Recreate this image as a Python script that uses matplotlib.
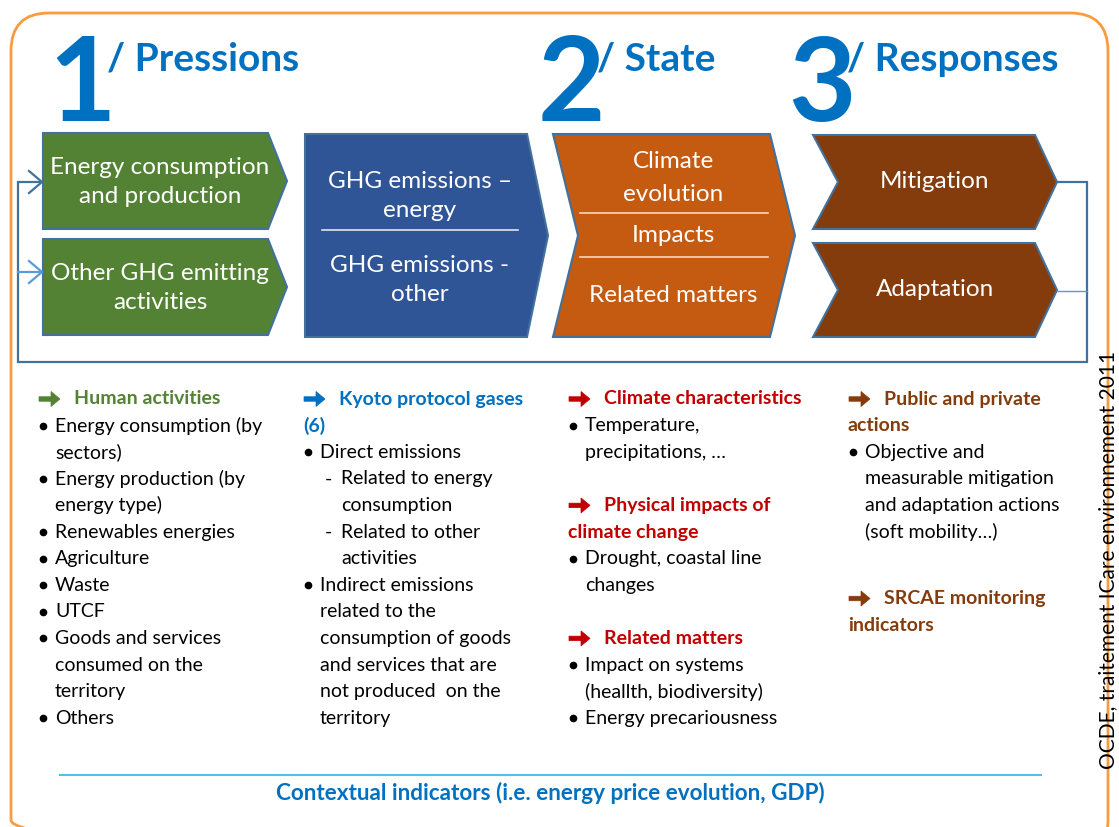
import matplotlib
matplotlib.use("Agg")
import matplotlib.pyplot as plt
from matplotlib.patches import Polygon, FancyBboxPatch, Rectangle, FancyArrow

plt.rcParams['font.family'] = ['Lato', 'DejaVu Sans']

# colours
BLUE = '#0070C0'
GREEN = '#548235'
NAVY = '#2F5597'
ORANGE = '#C55A11'
BROWN = '#843C0C'
RED = '#C00000'
EDGE = '#41719C'

# step headers
step_numbers = ['1', '2', '3']
step_titles = ['/ Pressions', '/ State', '/ Responses']
step_x = [48, 538, 788]

# boxes
green_labels = ['Energy consumption\nand production', 'Other GHG emitting\nactivities']
blue_labels = ['GHG emissions \u2013\nenergy', 'GHG emissions -\nother']
orange_labels = ['Climate\nevolution', 'Impacts', 'Related matters']
brown_labels = ['Mitigation', 'Adaptation']

# indicator columns: (kind, text) ; kind: head, cont, bullet, text, dash, dtext, gap, half
col1 = [('head', 'Human activities'),
        ('bullet', 'Energy consumption (by'), ('text', 'sectors)'),
        ('bullet', 'Energy production (by'), ('text', 'energy type)'),
        ('bullet', 'Renewables energies'),
        ('bullet', 'Agriculture'),
        ('bullet', 'Waste'),
        ('bullet', 'UTCF'),
        ('bullet', 'Goods and services'), ('text', 'consumed on the'), ('text', 'territory'),
        ('bullet', 'Others')]
col2 = [('head', 'Kyoto protocol gases'), ('cont', '(6)'),
        ('bullet', 'Direct emissions'),
        ('dash', 'Related to energy'), ('dtext', 'consumption'),
        ('dash', 'Related to other'), ('dtext', 'activities'),
        ('bullet', 'Indirect emissions'), ('text', 'related to the'),
        ('text', 'consumption of goods'), ('text', 'and services that are'),
        ('text', 'not produced  on the'), ('text', 'territory')]
col3 = [('head', 'Climate characteristics'),
        ('bullet', 'Temperature,'), ('text', 'precipitations, \u2026'),
        ('gap', ''),
        ('head', 'Physical impacts of'), ('cont', 'climate change'),
        ('bullet', 'Drought, coastal line'), ('text', 'changes'),
        ('gap', ''),
        ('head', 'Related matters'),
        ('bullet', 'Impact on systems'), ('text', '(heallth, biodiversity)'),
        ('bullet', 'Energy precariousness')]
col4 = [('head', 'Public and private'), ('cont', 'actions'),
        ('bullet', 'Objective and'), ('text', 'measurable mitigation'),
        ('text', 'and adaptation actions'), ('text', '(soft mobility\u2026)'),
        ('gap', ''), ('half', ''),
        ('head', 'SRCAE monitoring'), ('cont', 'indicators')]
columns = [col1, col2, col3, col4]
column_x = [38, 303, 568, 848]
column_colors = [GREEN, BLUE, RED, BROWN]

context_label = 'Contextual indicators (i.e. energy price evolution, GDP)'
source_label = 'OCDE, traitement ICare environnement 2011'


def pentagon(x0, x1, tip, y0, y1, notch=None):
    ym = (y0 + y1) / 2
    pts = [(x0, y0), (x1, y0), (tip, ym), (x1, y1), (x0, y1)]
    if notch is not None:
        pts.append((notch, ym))
    return pts


fig = plt.figure(figsize=(11.19, 8.27), dpi=100)
ax = fig.add_axes([0, 0, 1, 1])
ax.set_xlim(0, 1119)
ax.set_ylim(827, 0)
ax.axis('off')

# outer rounded frame
frame = FancyBboxPatch((11, 13), 1097, 845, boxstyle='round,pad=0,rounding_size=38',
                       fc='none', ec='#F79C3F', lw=2)
ax.add_patch(frame)

# headers
for num, title, x in zip(step_numbers, step_titles, step_x):
    ax.text(x, 121, num, fontsize=84, fontweight='bold', color=BLUE, va='baseline', ha='left')
    ax.text(x + 59, 71, title, fontsize=28, fontweight='bold', color=BLUE, va='baseline', ha='left')

# feedback loop
ax.plot([1057, 1087, 1087, 18, 18, 40], [182, 182, 362, 362, 182, 182], color=EDGE, lw=1.6,
        solid_joinstyle='miter')
ax.plot([1057, 1087], [291, 291], color='#5B9BD5', lw=1)
ax.plot([18, 40], [272, 272], color='#5B9BD5', lw=1.6)
for y, c in [(182, EDGE), (272, '#5B9BD5')]:
    ax.plot([29, 42, 29], [y - 11, y, y + 11], color=c, lw=1.6)

# green boxes
for (y0, y1), lab in zip([(133, 229), (239, 335)], green_labels):
    ax.add_patch(Polygon(pentagon(43, 268, 287, y0, y1), closed=True, fc=GREEN, ec=EDGE, lw=1.5))
    ax.text(160, (y0 + y1) / 2 + 1, lab, ha='center', va='center', color='white',
            fontsize=17.5, linespacing=1.5)

# blue box
ax.add_patch(Polygon(pentagon(305, 527, 548, 134, 337), closed=True, fc=NAVY, ec=EDGE, lw=1.5))
ax.plot([322, 518], [230, 230], color='#DDE6F3', lw=1.2)
for yc, lab in zip([196, 280], blue_labels):
    ax.text(420, yc, lab, ha='center', va='center', color='white', fontsize=17.5,
            linespacing=1.5)

# orange chevron
ax.add_patch(Polygon(pentagon(553, 770, 795, 134, 337, notch=578), closed=True,
                     fc=ORANGE, ec=EDGE, lw=1.5))
for yl in [213, 257]:
    ax.plot([580, 768], [yl, yl], color='#F4D6C2', lw=1.2)
for yc, lab in zip([178, 235, 295], orange_labels):
    ax.text(673, yc, lab, ha='center', va='center', color='white', fontsize=17.5,
            linespacing=1.75)

# brown chevrons
for (y0, y1), lab in zip([(135, 229), (243, 337)], brown_labels):
    ax.add_patch(Polygon(pentagon(813, 1035, 1057, y0, y1, notch=838), closed=True,
                         fc=BROWN, ec=EDGE, lw=1.5))
    ax.text(935, (y0 + y1) / 2, lab, ha='center', va='center', color='white', fontsize=17.5)

# indicator columns
step = 26.6
for col, x, c in zip(columns, column_x, column_colors):
    y = 399
    for kind, txt in col:
        if kind == 'head':
            ax.add_patch(FancyArrow(x + 1, y, 21, 0, width=4.5, head_width=15, head_length=9,
                                    length_includes_head=True, fc=c, ec=c, lw=0.5))
            ax.text(x + 36, y, txt, fontsize=14, fontweight='bold', color=c, va='center')
        elif kind == 'cont':
            ax.text(x, y, txt, fontsize=14, fontweight='bold', color=c, va='center')
        elif kind == 'bullet':
            ax.plot(x + 5, y, 'o', ms=4.5, color='black')
            ax.text(x + 17, y, txt, fontsize=14, color='black', va='center')
        elif kind == 'text':
            ax.text(x + 17, y, txt, fontsize=14, color='black', va='center')
        elif kind == 'dash':
            ax.text(x + 22, y, '-', fontsize=14, color='black', va='center')
            ax.text(x + 38, y, txt, fontsize=14, color='black', va='center')
        elif kind == 'dtext':
            ax.text(x + 38, y, txt, fontsize=14, color='black', va='center')
        if kind == 'half':
            y += step / 2
        else:
            y += step

# contextual indicators
ax.plot([60, 1041], [775, 775], color='#4FC1E9', lw=1.5)
clip = Rectangle((0, 0), 1119, 802, transform=ax.transData)
t = ax.text(550, 800, context_label, ha='center', va='baseline', fontsize=16.2,
            fontweight='bold', color=BLUE)
t.set_clip_path(clip)

# source
ax.text(1108, 560, source_label, rotation=90, ha='center', va='center', fontsize=15,
        color='black')

fig.savefig('out.png', dpi=100)
